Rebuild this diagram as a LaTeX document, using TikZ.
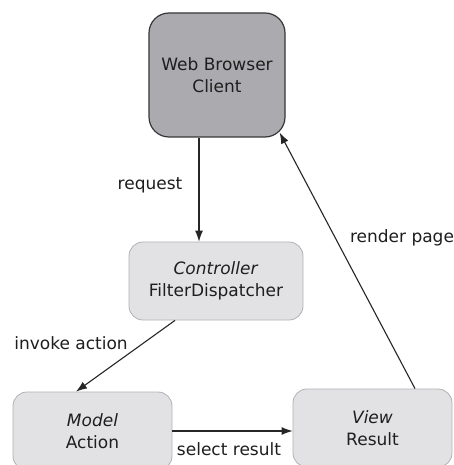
\documentclass[tikz,border=0pt]{standalone}
\usepackage{fontspec}
\setmainfont{DejaVu Sans}
\usetikzlibrary{arrows.meta}
\definecolor{webfill}{RGB}{171,171,175}
\definecolor{webdraw}{RGB}{55,55,58}
\definecolor{boxfill}{RGB}{226,226,228}
\definecolor{boxdraw}{RGB}{178,178,181}
\definecolor{txt}{RGB}{30,30,30}
\tikzset{
  base/.style={rectangle, inner sep=0pt, align=center, text=txt,
    font=\fontsize{17}{22.5}\selectfont},
  webbox/.style={base, fill=webfill, draw=webdraw, line width=1.2pt,
    rounded corners=20pt, minimum width=136pt, minimum height=124pt},
  lightbox/.style={base, fill=boxfill, draw=boxdraw, line width=0.8pt,
    rounded corners=14pt, minimum width=159pt, minimum height=78pt},
  lbl/.style={text=txt, inner sep=0pt, font=\fontsize{17}{20}\selectfont},
  conn/.style={draw=black!85, line width=1.1pt, -{Latex[length=11pt,width=8pt]}}
}
\begin{document}
\begin{tikzpicture}[x=1pt,y=1pt]
  \useasboundingbox (0,0) rectangle (454,-465);
  \clip (0,0) rectangle (454,-465);
  \fill[white] (0,0) rectangle (454,-465);
  \node[webbox] (web) at (217,-75) {Web Browser\\Client};
  \node[lightbox, minimum width=174pt] (ctrl) at (216,-281) {\textit{Controller}\\FilterDispatcher};
  \node[lightbox] (model) at (92.5,-431) {\textit{Model}\\Action};
  \node[lightbox] (view) at (372.5,-428) {\textit{View}\\Result};
  \draw[conn] ([xshift=-18pt]web.south) -- ([xshift=-17pt]ctrl.north);
  \draw[conn] ([xshift=-41pt]ctrl.south) -- ([xshift=-16.5pt]model.north);
  \draw[conn] (model.east) -- (model.east -| view.west);
  \coordinate (webcorner) at ([xshift=-6pt,yshift=5pt]web.south east);
  \draw[conn] ([xshift=42.5pt]view.north) -- (webcorner);
  \node[lbl] (lreq) at (150,-185) {request};
  \node[lbl] (linv) at (71,-343) {invoke action};
  \node[lbl] (lsel) at (229,-449) {select result};
  \node[lbl] (lren) at (402,-238) {render page};
\end{tikzpicture}
\end{document}
